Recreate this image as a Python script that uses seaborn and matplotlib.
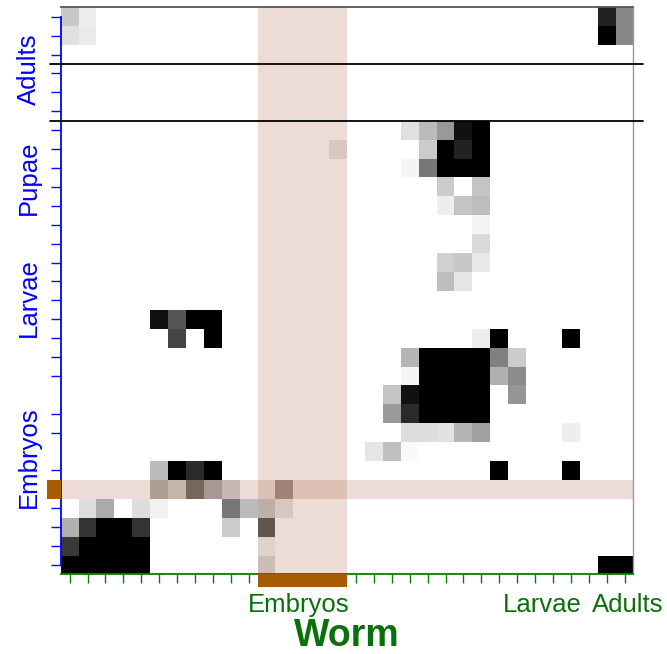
import numpy as np
import pandas as pd
import seaborn as sns
import matplotlib.pyplot as plt
from matplotlib.colors import LinearSegmentedColormap
from matplotlib.patches import Rectangle

sns.set_style("white")
plt.rcParams['font.family'] = ['Liberation Sans', 'DejaVu Sans']

n_rows, n_cols = 30, 32

# non-white cells: row, column, grey level (0 black .. 255 white)
cell_row = [0, 0, 0, 0,
            1, 1, 1, 1,
            6, 6, 6, 6, 6,
            7, 7, 7, 7, 7,
            8, 8, 8, 8, 8,
            9, 9,
            10, 10, 10,
            11,
            12,
            13, 13, 13,
            14, 14,
            16, 16, 16, 16,
            17, 17, 17, 17, 17,
            18, 18, 18, 18, 18, 18, 18,
            19, 19, 19, 19, 19, 19, 19,
            20, 20, 20, 20, 20, 20, 20,
            21, 21, 21, 21, 21, 21,
            22, 22, 22, 22, 22, 22,
            23, 23, 23,
            24, 24, 24, 24, 24, 24,
            25, 25, 25, 25, 25, 25,
            26, 26, 26, 26, 26, 26, 26, 26,
            27, 27, 27, 27, 27, 27, 27,
            28, 28, 28, 28, 28, 28,
            29, 29, 29, 29, 29, 29, 29, 29]
cell_col = [0, 1, 30, 31,
            0, 1, 30, 31,
            19, 20, 21, 22, 23,
            15, 20, 21, 22, 23,
            19, 20, 21, 22, 23,
            21, 23,
            21, 22, 23,
            23,
            23,
            21, 22, 23,
            21, 22,
            5, 6, 7, 8,
            6, 8, 23, 24, 28,
            19, 20, 21, 22, 23, 24, 25,
            19, 20, 21, 22, 23, 24, 25,
            18, 19, 20, 21, 22, 23, 25,
            18, 19, 20, 21, 22, 23,
            19, 20, 21, 22, 23, 28,
            17, 18, 19,
            5, 6, 7, 8, 24, 28,
            5, 6, 7, 8, 9, 12,
            1, 2, 4, 5, 9, 10, 11, 12,
            0, 1, 2, 3, 4, 9, 11,
            0, 1, 2, 3, 4, 11,
            0, 1, 2, 3, 4, 11, 30, 31]
cell_grey = [200, 238, 34, 136,
             224, 234, 0, 136,
             224, 187, 153, 17, 0,
             230, 204, 0, 34, 0,
             245, 119, 0, 0, 0,
             204, 196,
             238, 196, 189,
             245,
             218,
             208, 200, 232,
             190, 229,
             17, 85, 0, 0,
             68, 0, 238, 0, 0,
             181, 0, 0, 0, 0, 128, 204,
             245, 0, 0, 0, 0, 176, 140,
             196, 17, 0, 0, 0, 0, 149,
             153, 42, 0, 0, 0, 0,
             221, 221, 226, 181, 160, 238,
             229, 192, 250,
             187, 0, 42, 0, 0, 0,
             177, 206, 107, 170, 210, 160,
             221, 170, 221, 242, 119, 187, 197, 229,
             176, 51, 0, 0, 51, 204, 85,
             56, 0, 0, 0, 0, 241,
             0, 0, 0, 0, 0, 216, 0, 0]

x_labels = ['Embryos', 'Larvae', 'Adults']
x_label_pos = [13.3, 26.9, 31.7]
y_labels = ['Adults', 'Pupae', 'Larvae', 'Embryos']
y_label_pos = [3.25, 9.0, 15.35, 23.8]

sel_cols = (11, 16)
sel_row = 25
divider_rows = [3, 6]
y_tick_rows = [r for r in range(n_rows) if r not in (20, 23, 25)]

mat = np.zeros((n_rows, n_cols))
for r, c, g in zip(cell_row, cell_col, cell_grey):
    mat[r, c] = 1 - g / 255
df = pd.DataFrame(mat)

greys = LinearSegmentedColormap.from_list('wk', ['white', 'black'])
brown = '#a65c00'
green = '#0b700b'

fig = plt.figure(figsize=(6.67, 6.54), dpi=100)
ax = fig.add_axes([0.091, 0.1216, 0.8587, 0.8672])
sns.heatmap(df, cmap=greys, vmin=0, vmax=1, cbar=False, ax=ax,
            xticklabels=False, yticklabels=False)

# highlighted column block and row
ax.axvspan(sel_cols[0], sel_cols[1], color='sienna', alpha=0.2, lw=0, zorder=2)
ax.axhspan(sel_row, sel_row + 1, color='sienna', alpha=0.2, lw=0, zorder=2)
ax.add_patch(Rectangle((sel_cols[0], n_rows), sel_cols[1] - sel_cols[0], 0.66,
                       color=brown, lw=0, clip_on=False, zorder=5))
ax.add_patch(Rectangle((-0.77, sel_row), 0.77, 1,
                       color=brown, lw=0, clip_on=False, zorder=5))

for r in divider_rows:
    ax.plot([-0.6, n_cols + 0.55], [r, r], color='black', lw=1.3,
            clip_on=False, zorder=4)

for s in ax.spines.values():
    s.set_visible(True)
ax.spines['left'].set_color('blue')
ax.spines['left'].set_linewidth(1.3)
ax.spines['left'].set_bounds(0.5, n_rows - 0.5)
ax.spines['bottom'].set_color('green')
ax.spines['bottom'].set_linewidth(1.3)
ax.spines['top'].set_color('#555555')
ax.spines['top'].set_linewidth(1.3)
ax.spines['right'].set_color('#999999')
ax.spines['right'].set_linewidth(1.0)

ax.set_xticks(np.arange(n_cols) + 0.5, minor=True)
ax.set_xticks(x_label_pos)
ax.set_xticklabels(x_labels)
ax.tick_params(axis='x', which='major', bottom=True, length=0, pad=13,
               labelsize=18.5, labelcolor=green)
ax.tick_params(axis='x', which='minor', bottom=True, length=6.5, width=1,
               color='green', direction='out')

ax.set_yticks(np.array(y_tick_rows) + 0.5, minor=True)
ax.set_yticks(y_label_pos)
ax.set_yticklabels(y_labels, rotation=90, va='center')
ax.tick_params(axis='y', which='major', left=True, length=0, pad=14,
               labelsize=18.5, labelcolor='blue')
ax.tick_params(axis='y', which='minor', left=True, length=7.5, width=1,
               color='blue', direction='out')

ax.set_xlabel('Worm', fontsize=27, fontweight='bold', color=green, labelpad=1)
ax.set_ylabel('')

fig.savefig('out.png', dpi=100)
